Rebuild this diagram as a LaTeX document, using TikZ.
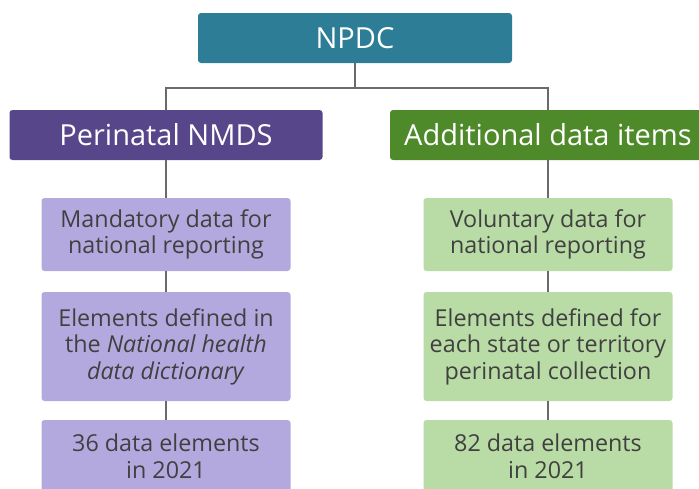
\documentclass[tikz,border=0pt]{standalone}
\usepackage{fontspec}
\setmainfont{Open Sans}
\usetikzlibrary{positioning}

\definecolor{npdcteal}{HTML}{2C7D95}
\definecolor{nmdsdark}{HTML}{574689}
\definecolor{nmdslight}{HTML}{B4A9DF}
\definecolor{extradark}{HTML}{4F8A2A}
\definecolor{extralight}{HTML}{B9DBA5}
\definecolor{boxtext}{HTML}{404040}
\definecolor{linkgray}{HTML}{6A6A6A}

\begin{document}
\begin{tikzpicture}[x=1pt, y=-1pt,
    head/.style={rounded corners=3pt, inner sep=0pt, minimum height=50pt, text=white,
      font=\fontsize{29}{32}\selectfont},
    item/.style={rounded corners=3pt, inner sep=0pt, minimum width=249pt, align=center,
      text=boxtext, font=\fontsize{23.3}{26.5}\selectfont},
    link/.style={draw=linkgray, line width=1.5pt}]
  \useasboundingbox (0,0) rectangle (699,488);
  \clip (0,0) rectangle (699,488);
  % top level
  \node[head, fill=npdcteal, minimum width=314pt] (npdc) at (355,38) {NPDC};
  \node[head, fill=nmdsdark, minimum width=313pt] (nmds) at (166,135) {Perinatal NMDS};
  \node[head, fill=extradark, minimum width=316pt] (extra) at (548,135) {Additional data items};
  % Perinatal NMDS column
  \node[item, fill=nmdslight, minimum height=73pt] (nmdsA) at (166,234.5)
    {Mandatory data for\\national reporting};
  \node[item, fill=nmdslight, minimum height=109pt] (nmdsB) at (166,346.5)
    {Elements defined in\\the \textit{National health}\\\textit{data dictionary}};
  \node[item, fill=nmdslight, minimum height=73pt] (nmdsC) at (166,456.5)
    {36 data elements\\in 2021};
  % Additional data items column
  \node[item, fill=extralight, minimum height=73pt] (extraA) at (548,234.5)
    {Voluntary data for\\national reporting};
  \node[item, fill=extralight, minimum height=109pt] (extraB) at (548,346.5)
    {Elements defined for\\each state or territory\\perinatal collection};
  \node[item, fill=extralight, minimum height=73pt] (extraC) at (548,456.5)
    {82 data elements\\in 2021};
  % connectors
  \draw[link] (npdc.south) -- ++(0,25) -| (nmds.north);
  \draw[link] (npdc.south) -- ++(0,25) -| (extra.north);
  \foreach \a/\b in {nmds/nmdsA, nmdsA/nmdsB, nmdsB/nmdsC,
                     extra/extraA, extraA/extraB, extraB/extraC}
    \draw[link] (\a.south) -- (\b.north);
\end{tikzpicture}
\end{document}
